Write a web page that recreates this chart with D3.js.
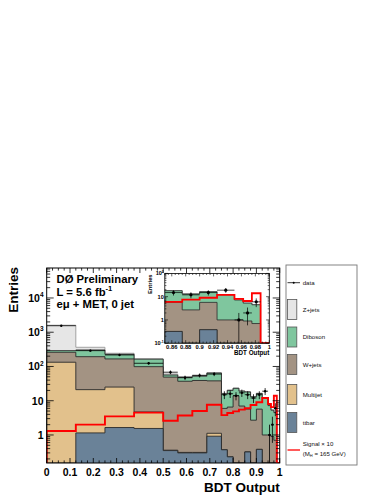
<!DOCTYPE html>
<html><head><meta charset="utf-8">
<script src="https://cdn.jsdelivr.net/npm/d3@7"></script>
<style>
html,body{margin:0;padding:0;background:#fff;}
svg{display:block;font-family:"Liberation Sans",Arial,Helvetica,sans-serif;}
</style></head>
<body>
<svg id="c" width="388" height="502"></svg>
<script>
// ---------------- data ----------------
const edges = [0,0.125,0.25,0.375,0.5,0.5625,0.625,0.6875,0.75,0.775,0.8,0.825,0.85,0.875,0.9,0.925,0.95,0.9625,0.975,0.9875,1];
const ttbar    = [0,1.15,1.65,1.55,0.35,0.30,0.30,0.92,0.37,0.23,0.1,0.1,0.32,0.05,0.38,0.05,0.02,0.01,0.01,0];
const multijet = [133,19.9,23.4,3.15,0.01,0.01,0.01,0.2,0,0,0,0,0,0,0,0,0,0,0,0];
const wjets    = [127,172,141,94,48.6,36.7,38.7,36.9,5.6,6.3,13.9,6.9,5.4,2.65,5.3,0.95,0.98,0.89,0.69,0.05];
const diboson  = [30,110,61,65,7.4,11,13,26,10,13.5,9,12,12.3,10.3,10.6,11,6.2,4.4,3.8,0.03];
const zjets    = [1310,60,16,3,4,3,3,2,0.5,0.5,0.5,0.5,0.3,0.3,0.3,0.2,0.1,0.1,0.1,0];
const signal   = [1.3,2.0,3.5,4.5,2.6,3.7,5.0,7.6,3.8,4.4,4.9,5.5,6.0,7.5,9.0,12,8,6.5,14,0];
const dataObs  = [1550,290,217,124,68,47,55,60,15,16,14,17,15,12,15,19,1,2,6,0];

const xTicks = [0,0.1,0.2,0.3,0.4,0.5,0.6,0.7,0.8,0.9,1];
const yTicks = [1,10,100,1000,10000];
const insetXTicks = [0.86,0.88,0.9,0.92,0.94,0.96,0.98,1];
const insetYTicks = [0.1,1,10,100];

const seriesNames  = ["ttbar","Multijet","W+jets","Diboson","Z+jets"];
const seriesVals   = [ttbar, multijet, wjets, diboson, zjets];
const seriesColors = ["#6a8298","#e2c18c","#a39383","#7fc69e","#e6e6e6"];
const seriesStroke = ["#2a2a2a","#2a2a2a","#2a2a2a","#2a2a2a","#9a9a9a"];

// ---------------- setup ----------------
const svg = d3.select("#c");
const FONT = "'Liberation Sans',Arial,Helvetica,sans-serif";

const cum = [];
seriesVals.forEach((arr,k)=>{
  cum.push(arr.map((v,i)=> v + (k>0 ? cum[k-1][i] : 0)));
});

function stepPath(x, y, vals, yb){
  let p = `M${x(edges[0])},${yb}`;
  vals.forEach((v,i)=>{ p += `V${y(v)}H${x(edges[i+1])}`; });
  p += `V${yb}Z`;
  return p;
}
function stepLine(x, y, vals, yb){
  let p = `M${x(edges[0])},${yb}`;
  vals.forEach((v,i)=>{ p += `V${y(v)}H${x(edges[i+1])}`; });
  return p;
}

function drawPanel(g, x, y, opt){
  const [xl,xr] = x.range(), [yb,yt] = y.range();
  const id = opt.id;
  svg.append("clipPath").attr("id",id).append("rect")
    .attr("x",xl).attr("y",yt).attr("width",xr-xl).attr("height",yb-yt);
  const pg = g.append("g").attr("clip-path",`url(#${id})`);
  pg.append("rect").attr("x",xl).attr("y",yt).attr("width",xr-xl).attr("height",yb-yt).attr("fill","#fff");
  for(let k=cum.length-1;k>=0;k--){
    pg.append("path").attr("d",stepPath(x,y,cum[k],yb+2))
      .attr("fill",seriesColors[k]).attr("stroke",seriesStroke[k]).attr("stroke-width",opt.sw);
  }
  pg.append("path").attr("d",stepLine(x,y,signal,yb+2))
    .attr("fill","none").attr("stroke","#ff0000").attr("stroke-width",opt.sigw);
  dataObs.forEach((d,i)=>{
    if(d<=0) return;
    const e = Math.sqrt(d);
    const cx = x((edges[i]+edges[i+1])/2);
    pg.append("line").attr("x1",x(edges[i])).attr("x2",x(edges[i+1]))
      .attr("y1",y(d)).attr("y2",y(d)).attr("stroke","#000").attr("stroke-width",opt.dw);
    pg.append("line").attr("x1",cx).attr("x2",cx)
      .attr("y1",y(Math.max(d-e,1e-6))).attr("y2",y(d+e)).attr("stroke","#000").attr("stroke-width",opt.dw);
    pg.append("circle").attr("cx",cx).attr("cy",y(d)).attr("r",opt.mr).attr("fill","#000");
  });
  g.append("rect").attr("x",xl).attr("y",yt).attr("width",xr-xl).attr("height",yb-yt)
    .attr("fill","none").attr("stroke","#000").attr("stroke-width",opt.fw);
}

function logTicks(y){
  const [a,b] = y.domain(); const out=[];
  for(let e=Math.floor(Math.log10(a)); e<=Math.ceil(Math.log10(b)); e++){
    for(let m=1;m<10;m++){
      const v = m*Math.pow(10,e);
      if(v>=a*0.9999 && v<=b*1.0001) out.push({v, major:m===1});
    }
  }
  return out;
}
function supLabel(sel, v, fs){
  const e = Math.round(Math.log10(v));
  if(e===0){ sel.text("1"); }
  else if(e===1){ sel.text("10"); }
  else {
    sel.append("tspan").text("10");
    sel.append("tspan").attr("dy",-fs*0.45).attr("font-size",fs*0.62).text(String(e));
  }
}

// ---------------- main panel ----------------
const X0=46.7, X1=279.7, YT=268, YB=463;
const x = d3.scaleLinear().domain([0,1]).range([X0,X1]);
const y = d3.scaleLog().domain([0.152,75000]).range([YB,YT]).clamp(true);
const main = svg.append("g");
drawPanel(main, x, y, {id:"clipMain", sw:0.9, sigw:1.9, dw:0.8, mr:1.2, fw:1});

const tk = main.append("g").attr("stroke","#000").attr("stroke-width",0.8);
d3.range(0,41).forEach(i=>{
  const v=i*0.025, major = (i%4===0), L = major?5:2.6;
  tk.append("line").attr("x1",x(v)).attr("x2",x(v)).attr("y1",YB).attr("y2",YB-L);
  tk.append("line").attr("x1",x(v)).attr("x2",x(v)).attr("y1",YT).attr("y2",YT+L);
});
logTicks(y).forEach(t=>{
  const L = t.major?7:3.5;
  tk.append("line").attr("x1",X0).attr("x2",X0+L).attr("y1",y(t.v)).attr("y2",y(t.v));
  tk.append("line").attr("x1",X1).attr("x2",X1-L).attr("y1",y(t.v)).attr("y2",y(t.v));
});
xTicks.forEach(v=>{
  main.append("text").attr("x",x(v)).attr("y",475.5).attr("text-anchor","middle")
    .attr("font-size",10.5).attr("font-weight","bold").attr("font-family",FONT)
    .text(v===0?"0":(v===1?"1":d3.format(".1f")(v)));
});
yTicks.forEach(v=>{
  const t = main.append("text").attr("x",43.5).attr("y",y(v)+3.8).attr("text-anchor","end")
    .attr("font-size",10.5).attr("font-weight","bold").attr("font-family",FONT);
  supLabel(t, v, 10.5);
});
main.append("text").attr("x",X1).attr("y",492).attr("text-anchor","end")
  .attr("font-size",13.5).attr("font-weight","bold").attr("font-family",FONT).text("BDT Output");
main.append("text").attr("transform",`translate(18,${YT-1}) rotate(-90)`).attr("text-anchor","end")
  .attr("font-size",13.5).attr("font-weight","bold").attr("font-family",FONT).text("Entries");

const lab = main.append("g").attr("font-family",FONT).attr("font-weight","bold").attr("font-size",11.3);
lab.append("text").attr("x",56.5).attr("y",282.5).text("DØ Preliminary");
const l2 = lab.append("text").attr("x",56.5).attr("y",295.8);
l2.append("tspan").text("L = 5.6 fb");
l2.append("tspan").attr("dy",-4.5).attr("font-size",7.5).text("-1");
lab.append("text").attr("x",56.5).attr("y",308).text("eμ + MET, 0 jet");

// ---------------- inset ----------------
const IX0=164.8, IX1=269.3, IYT=273.4, IYB=343.2;
const ix = d3.scaleLinear().domain([0.85,1]).range([IX0,IX1]);
const iy = d3.scaleLog().domain([0.1,100]).range([IYB,IYT]).clamp(true);
const ins = svg.append("g");
drawPanel(ins, ix, iy, {id:"clipInset", sw:0.8, sigw:1.8, dw:0.7, mr:1.6, fw:0.8});
const itk = ins.append("g").attr("stroke","#000").attr("stroke-width",0.6);
d3.range(0,31).forEach(i=>{
  const v=0.85+i*0.005, major=(i%4===2), L=major?3:1.6;
  itk.append("line").attr("x1",ix(v)).attr("x2",ix(v)).attr("y1",IYB).attr("y2",IYB-L);
  itk.append("line").attr("x1",ix(v)).attr("x2",ix(v)).attr("y1",IYT).attr("y2",IYT+L);
});
logTicks(iy).forEach(t=>{
  const L=t.major?3.2:1.6;
  itk.append("line").attr("x1",IX0).attr("x2",IX0+L).attr("y1",iy(t.v)).attr("y2",iy(t.v));
  itk.append("line").attr("x1",IX1).attr("x2",IX1-L).attr("y1",iy(t.v)).attr("y2",iy(t.v));
});
insetXTicks.forEach(v=>{
  ins.append("text").attr("x",ix(v)).attr("y",348.5).attr("text-anchor","middle")
    .attr("font-size",5.8).attr("font-weight","bold").attr("font-family",FONT)
    .text(v===1?"1":d3.format(".2~f")(v));
});
insetYTicks.forEach(v=>{
  const t = ins.append("text").attr("x",163.8).attr("y",iy(v)+2).attr("text-anchor","end")
    .attr("font-size",5.6).attr("font-weight","bold").attr("font-family",FONT);
  supLabel(t, v, 5.6);
});
ins.append("text").attr("x",IX1).attr("y",355).attr("text-anchor","end")
  .attr("font-size",6.3).attr("font-weight","bold").attr("font-family",FONT).text("BDT Output");
ins.append("text").attr("transform",`translate(152,${IYT+1}) rotate(-90)`).attr("text-anchor","end")
  .attr("font-size",5.8).attr("font-weight","bold").attr("font-family",FONT).text("Entries");

// ---------------- legend ----------------
const LX=286, LY=265, LW=71, LH=200;
const leg = svg.append("g").attr("font-family",FONT).attr("font-size",6.1).attr("fill","#111");
leg.append("rect").attr("x",LX).attr("y",LY).attr("width",LW).attr("height",LH)
  .attr("fill","#fff").attr("stroke","#777").attr("stroke-width",0.9);
leg.append("line").attr("x1",287.5).attr("x2",300).attr("y1",282.7).attr("y2",282.7).attr("stroke","#000").attr("stroke-width",0.8);
leg.append("circle").attr("cx",293.7).attr("cy",282.7).attr("r",1).attr("fill","#000");
leg.append("text").attr("x",302.7).attr("y",284.8).text("data");
const legOrder = [4,3,2,1,0];
const legY = [299.5,327,354.5,384.5,412.5];
legOrder.forEach((k,j)=>{
  leg.append("rect").attr("x",287.5).attr("y",legY[j]).attr("width",9.3).attr("height",20)
    .attr("fill",seriesColors[k]).attr("stroke","#555").attr("stroke-width",0.8);
  leg.append("text").attr("x",302.7).attr("y",legY[j]+12.2).text(seriesNames[k]);
});
leg.append("line").attr("x1",287.5).attr("x2",300).attr("y1",450).attr("y2",450).attr("stroke","#ff0000").attr("stroke-width",1.3);
leg.append("text").attr("x",302.7).attr("y",445.5).text("Signal × 10");
const s2 = leg.append("text").attr("x",302.7).attr("y",455.7);
s2.append("tspan").text("(M");
s2.append("tspan").attr("dy",1.5).attr("font-size",4).text("H");
s2.append("tspan").attr("dy",-1.5).text(" = 165 GeV)");
</script>
</body></html>
